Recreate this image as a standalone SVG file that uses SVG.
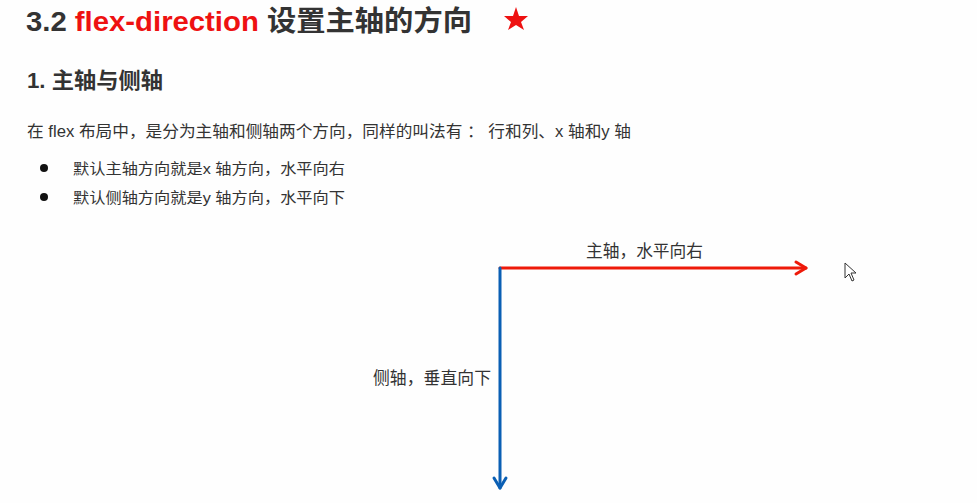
<svg xmlns="http://www.w3.org/2000/svg" width="977" height="503" viewBox="0 0 977 503">
<style>
.t{font-family:"Liberation Sans","Noto Sans CJK SC",sans-serif;fill:#333}
.h1{font-size:28px;font-weight:bold}
.h2{font-size:22px;font-weight:bold}
.p{font-size:16px}
.b{font-size:15px}
.lbl{font-size:17px}
</style>
<rect width="977" height="503" fill="#fefefe"/>
<g id="title">
<text class="t h1" x="26" y="31" textLength="446" lengthAdjust="spacingAndGlyphs">3.2 <tspan fill="#ee1111">flex-direction</tspan> 设置主轴的方向</text>
<polygon fill="#ee1111" points="516,7 519,16 528,16 521,22 524,30 516,25 508,30 511,22 504,16 513,16"/>
</g>
<g id="heading"><text class="t h2" x="27" y="88" textLength="136" lengthAdjust="spacingAndGlyphs">1. 主轴与侧轴</text></g>
<g id="para"><text class="t p" x="27" y="137" textLength="604" lengthAdjust="spacingAndGlyphs">在 flex 布局中，是分为主轴和侧轴两个方向，同样的叫法有 ： 行和列、x 轴和y 轴</text></g>
<g id="bullets">
<circle cx="44" cy="168" r="4" fill="#111"/>
<text class="t b" x="73" y="174" textLength="272" lengthAdjust="spacingAndGlyphs">默认主轴方向就是x 轴方向，水平向右</text>
<circle cx="44" cy="197" r="4" fill="#111"/>
<text class="t b" x="73" y="203" textLength="272" lengthAdjust="spacingAndGlyphs">默认侧轴方向就是y 轴方向，水平向下</text>
</g>
<g id="connectors" fill="none" stroke-width="3" stroke-linecap="round" stroke-linejoin="round">
<path d="M500,268 H806" stroke="#ee1a0a"/>
<path d="M796,262 L806,268 L796,274" stroke="#ee1a0a"/>
<path d="M500,268 V488" stroke="#0a5fb4"/>
<path d="M494,478 L500,488 L506,478" stroke="#0a5fb4"/>
</g>
<g id="label-main"><text class="t lbl" x="586" y="257" textLength="117" lengthAdjust="spacingAndGlyphs">主轴，水平向右</text></g>
<g id="label-cross"><text class="t lbl" x="373" y="384" textLength="118" lengthAdjust="spacingAndGlyphs">侧轴，垂直向下</text></g>
<path d="M845,263 L845,278 L849,274 L852,281 L854,280 L851,273 L856,273 Z" fill="#fff" stroke="#333" stroke-width="1"/>
</svg>
